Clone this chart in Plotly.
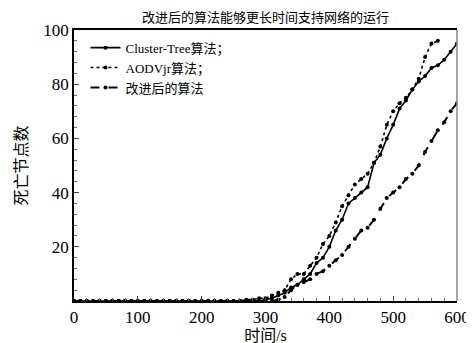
import plotly.graph_objects as go

# ---- data ----
t_base = list(range(0, 300, 10))
cluster_t = t_base + list(range(300, 610, 10))
cluster_v = [0] * len(t_base) + [0.5, 1, 2, 3, 5, 6, 8, 10, 14, 16, 20, 26, 30, 36, 38, 40,
                                 42, 51, 54, 60, 65, 71, 74, 78, 81, 83, 86, 87, 89, 92, 95]

aodv_t = list(range(0, 270, 10)) + list(range(270, 580, 10))
aodv_v = [0] * 27 + [0.5, 0.5, 1, 1, 2, 3, 4, 8, 10, 10, 13, 16, 21, 24, 29, 35, 39, 43, 45,
                     47, 51, 57, 65, 70, 73, 75, 78, 82, 90, 95, 96]

improved_t = t_base + list(range(300, 610, 10))
improved_v = [0] * len(t_base) + [0, 0, 0.5, 1.5, 4, 6, 7, 8, 10, 11, 13, 15, 17, 20, 23, 26,
                                  27, 30, 34, 38, 40, 42, 45, 47, 50, 55, 59, 63, 66, 70, 73]

series_names = ["Cluster-Tree算法；", "AODVjr算法；", "改进后的算法"]
x_ticks = [0, 100, 200, 300, 400, 500, 600]
y_ticks = [20, 40, 60, 80, 100]

FONT = "Liberation Serif, Noto Sans CJK SC"
TICKFONT = dict(family="Times New Roman", size=17, color="black")

fig = go.Figure()
styles = [("solid", 1.6), ("dot", 1.6), ("dash", 2.0)]
for (tx, vy), name, (dash, w) in zip([(cluster_t, cluster_v), (aodv_t, aodv_v), (improved_t, improved_v)],
                                     series_names, styles):
    fig.add_trace(go.Scatter(
        x=tx, y=vy, name=name, mode="lines+markers",
        line=dict(color="black", width=w, dash=dash),
        marker=dict(color="black", size=4),
    ))

fig.update_layout(
    width=474, height=343,
    margin=dict(l=66, r=15, t=22, b=43),
    paper_bgcolor="white", plot_bgcolor="white",
    font=dict(family=FONT, color="black", size=16),
    showlegend=True,
    legend=dict(x=0.03, y=0.99, xanchor="left", yanchor="top",
                bgcolor="rgba(0,0,0,0)", font=dict(size=13, family=FONT),
                tracegroupgap=0, itemwidth=30),
    xaxis=dict(range=[0, 600], tickvals=x_ticks, ticks="inside", ticklen=5,
               tickfont=TICKFONT,
               showline=True, linecolor="black", linewidth=2, mirror=True,
               showgrid=False, zeroline=False,
               minor=dict(ticks="inside", ticklen=3, dtick=20, tickcolor="#666"),
               title=dict(text="时间/s", font=dict(size=16, family=FONT), standoff=0)),
    yaxis=dict(range=[0, 100], tickvals=y_ticks, ticks="inside", ticklen=5,
               tickfont=TICKFONT,
               showline=True, linecolor="black", linewidth=1.5,
               showgrid=False, zeroline=False,
               minor=dict(ticks="inside", ticklen=3, dtick=4, tickcolor="#666"),
               title=dict(text="死亡节点数", font=dict(size=16, family=FONT), standoff=12)),
)

# right border (grey) with ticks
fig.add_shape(type="line", xref="paper", yref="paper", x0=1, x1=1, y0=0, y1=1,
              line=dict(color="#888", width=1.5))

# body text line above the chart (cropped in the source; kept fully visible here)
fig.add_annotation(text="改进后的算法能够更长时间支持网络的运行", xref="paper", yref="paper",
                   x=0.5, y=1, yshift=22, xanchor="center", yanchor="top",
                   showarrow=False, font=dict(size=13, family=FONT))

fig.write_html("out.html")
